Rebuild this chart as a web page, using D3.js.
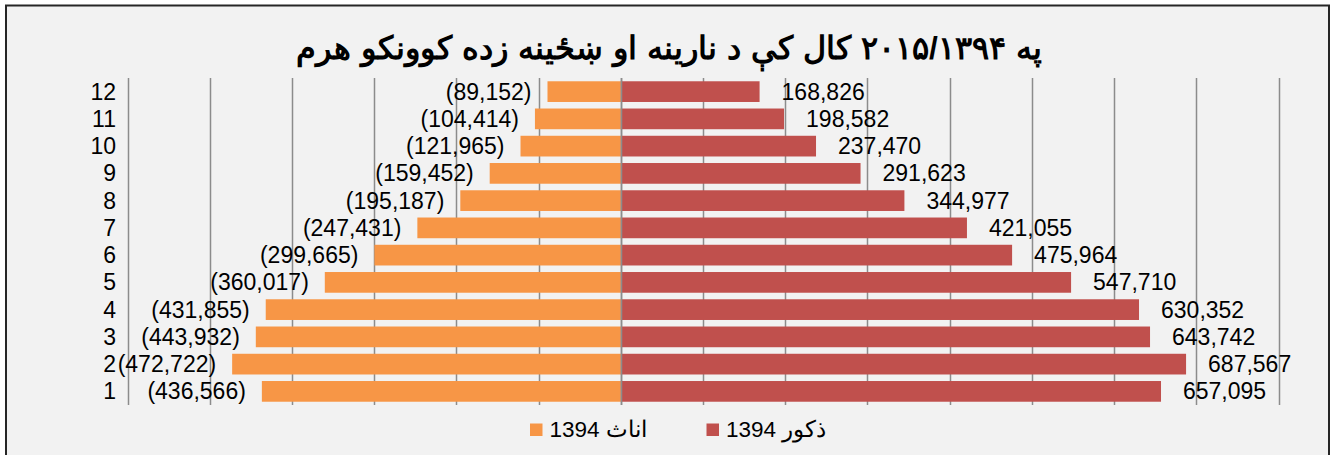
<!DOCTYPE html>
<html>
<head>
<meta charset="utf-8">
<script src="https://cdn.jsdelivr.net/npm/d3@7"></script>
<style>
  body { margin: 0; background: #fff; }
  svg { display: block; }
  text { font-family: "Liberation Sans", Arial, sans-serif; fill: #000; }
</style>
</head>
<body>
<script>
// pyramid data, age groups 1..12
const grades = ['1', '2', '3', '4', '5', '6', '7', '8', '9', '10', '11', '12'];
const female = [436566, 472722, 443932, 431855, 360017, 299665, 247431, 195187, 159452, 121965, 104414, 89152];
const male = [657095, 687567, 643742, 630352, 547710, 475964, 421055, 344977, 291623, 237470, 198582, 168826];
const valueTicks = d3.range(-600000, 800001, 100000);

// title words, placed one after another from the left
const titleWords = ['هرم', 'کوونکو', 'زده', 'ښځینه', 'او', 'نارینه', 'د', 'کې', 'کال', '۲۰۱۵/۱۳۹۴', 'په'];
const femaleName = '1394 اناث';
const maleName = '1394 ذکور';

const width = 1335;
const height = 455;
const orange = '#F79646';
const red = '#C0504D';

const svg = d3.select('body').append('svg')
    .attr('width', width)
    .attr('height', height);

// chart area with border
svg.append('rect')
    .attr('x', 6)
    .attr('y', 5.5)
    .attr('width', 1323)
    .attr('height', 470)
    .attr('fill', '#F2F2F2')
    .attr('stroke', '#262626')
    .attr('stroke-width', 2);

const x = d3.scaleLinear()
    .domain([-600000, 800000])
    .range([127.5, 1278.5]);

const y = d3.scaleBand()
    .domain(grades)
    .range([405, 78])
    .paddingInner(0.24)
    .paddingOuter(0.12);

// vertical gridlines
svg.append('g')
    .selectAll('line')
    .data(valueTicks)
    .enter()
    .append('line')
    .attr('x1', d => Math.round(x(d)) + 0.5)
    .attr('x2', d => Math.round(x(d)) + 0.5)
    .attr('y1', 78)
    .attr('y2', 405)
    .attr('stroke', '#8C8C8C')
    .attr('stroke-width', 1.5);

// female bars (left)
svg.append('g')
    .selectAll('rect')
    .data(female)
    .enter()
    .append('rect')
    .attr('x', d => x(-d))
    .attr('y', (d, i) => y(grades[i]))
    .attr('width', d => x(0) - x(-d))
    .attr('height', y.bandwidth())
    .attr('fill', orange);

// male bars (right)
svg.append('g')
    .selectAll('rect')
    .data(male)
    .enter()
    .append('rect')
    .attr('x', x(0))
    .attr('y', (d, i) => y(grades[i]))
    .attr('width', d => x(d) - x(0))
    .attr('height', y.bandwidth())
    .attr('fill', red);

// category axis line at zero
svg.append('line')
    .attr('x1', Math.round(x(0)) + 0.5)
    .attr('x2', Math.round(x(0)) + 0.5)
    .attr('y1', 78)
    .attr('y2', 405)
    .attr('stroke', '#8C8C8C')
    .attr('stroke-width', 1.5);

const fmt = d3.format(',');

// category labels
svg.append('g')
    .selectAll('text')
    .data(grades)
    .enter()
    .append('text')
    .attr('x', 116)
    .attr('y', d => y(d) + y.bandwidth() / 2)
    .attr('dy', '0.35em')
    .attr('text-anchor', 'end')
    .attr('font-size', 23)
    .text(d => d);

// data labels
svg.append('g')
    .selectAll('text')
    .data(female)
    .enter()
    .append('text')
    .attr('x', d => x(-d) - 16)
    .attr('y', (d, i) => y(grades[i]) + y.bandwidth() / 2)
    .attr('dy', '0.35em')
    .attr('text-anchor', 'end')
    .attr('font-size', 23)
    .text(d => '(' + fmt(d) + ')');

svg.append('g')
    .selectAll('text')
    .data(male)
    .enter()
    .append('text')
    .attr('x', d => x(d) + 22)
    .attr('y', (d, i) => y(grades[i]) + y.bandwidth() / 2)
    .attr('dy', '0.35em')
    .attr('text-anchor', 'start')
    .attr('font-size', 23)
    .text(d => fmt(d));

// title: each word is its own text element
const title = svg.append('g');
const titleTexts = title.selectAll('text')
    .data(titleWords)
    .enter()
    .append('text')
    .attr('y', 59)
    .attr('font-size', 31.7)
    .attr('font-weight', 'bold')
    .text(d => d);
const wordW = titleTexts.nodes().map(n => n.getComputedTextLength());
const gap = 10;
const totalW = d3.sum(wordW) + gap * (wordW.length - 1);
let cursor = 669 - totalW / 2;
titleTexts.each(function(d, i) {
    d3.select(this).attr('x', cursor);
    cursor += wordW[i] + gap;
});

// legend
const legend = svg.append('g');
const legendItems = [
    { name: femaleName, color: orange, x: 530 },
    { name: maleName, color: red, x: 706.5 }
];
legendItems.forEach(item => {
    legend.append('rect')
        .attr('x', item.x)
        .attr('y', 423.5)
        .attr('width', 12.5)
        .attr('height', 12.5)
        .attr('fill', item.color);
    legend.append('text')
        .attr('x', item.x + 19.5)
        .attr('y', 437.3)
        .attr('font-size', 22.5)
        .attr('direction', 'ltr')
        .text(item.name);
});
</script>
</body>
</html>
